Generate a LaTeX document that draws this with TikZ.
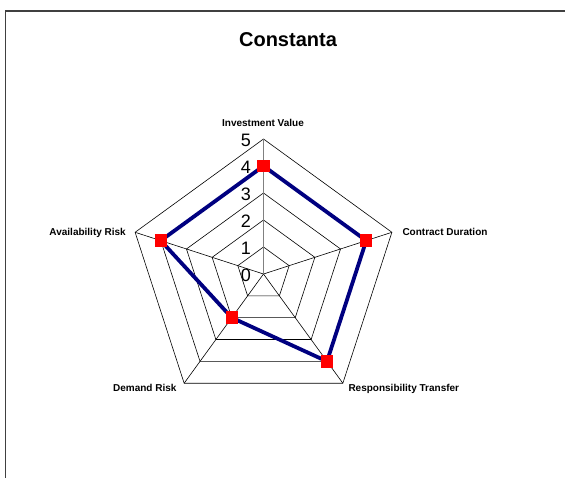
\documentclass[tikz,border=0pt]{standalone}
\usepackage{fontspec}
\setmainfont{Liberation Sans}
\definecolor{seriesblue}{RGB}{0,0,128}
\definecolor{framegray}{RGB}{64,64,64}

\begin{document}
\begin{tikzpicture}[x=1pt, y=-1pt,
    web/.style={line width=0.6pt},
    marker/.style={fill=red, minimum size=12.5pt, inner sep=0pt},
    axislabel/.style={font=\bfseries\fontsize{10}{12}\selectfont, inner sep=0pt},
    ticklabel/.style={font=\fontsize{18}{21}\selectfont, inner sep=0pt}]
  \useasboundingbox (0,0) rectangle (565,477);
  % chart frame (only top and left edges show)
  \draw [framegray, line width=1.5pt] (5.5,480) -- (5.5,11) -- (570,11);
  % title
  \node [font=\bfseries\fontsize{20}{24}\selectfont, anchor=base] (title) at (288,46) {Constanta};
  \begin{scope}[shift={(263.5,274)}]
    % axis ends
    \coordinate (O) at (0,0);
    \coordinate (inv) at (-90:135);
    \coordinate (con) at (-18:135);
    \coordinate (res) at (54:135);
    \coordinate (dem) at (126:135);
    \coordinate (ava) at (198:135);
    % rings
    \foreach \r in {27,54,81,108,135}
      \draw [web] (-90:\r) -- (-18:\r) -- (54:\r) -- (126:\r) -- (198:\r) -- cycle;
    % spokes
    \draw [web] (O) -- (con);
    \draw [web] (O) -- (res);
    \draw [web] (O) -- (dem);
    \draw [web] (O) -- (ava);
    \draw [gray, line width=0.9pt] (O) -- (inv);
    % data points
    \coordinate (pinv) at (-90:108);
    \coordinate (pcon) at (-18:108);
    \coordinate (pres) at (54:108);
    \coordinate (pdem) at (126:54);
    \coordinate (pava) at (198:108);
    \draw [seriesblue, line width=3.8pt] (pinv) -- (pcon) -- (pres) -- (pdem) -- (pava) -- cycle;
    \node [marker] (minv) at (pinv) {};
    \node [marker] (mcon) at (pcon) {};
    \node [marker] (mres) at (pres) {};
    \node [marker] (mdem) at (pdem) {};
    \node [marker] (mava) at (pava) {};
  \end{scope}
  % scale numbers
  \node [ticklabel] (t0) at (246,275.5) {0};
  \node [ticklabel] (t1) at (246,248.5) {1};
  \node [ticklabel] (t2) at (246,221.5) {2};
  \node [ticklabel] (t3) at (246,194.5) {3};
  \node [ticklabel] (t4) at (246,167.5) {4};
  \node [ticklabel] (t5) at (246,140.5) {5};
  % axis names
  \node [axislabel, anchor=base] (linv) at (263,126.7) {Investment Value};
  \node [axislabel, anchor=base west] (lcon) at (402.3,235) {Contract Duration};
  \node [axislabel, anchor=base west] (lres) at (348.3,391) {Responsibility Transfer};
  \node [axislabel, anchor=base east] (ldem) at (176.7,391) {Demand Risk};
  \node [axislabel, anchor=base east] (lava) at (126,235) {Availability Risk};
\end{tikzpicture}
\end{document}
